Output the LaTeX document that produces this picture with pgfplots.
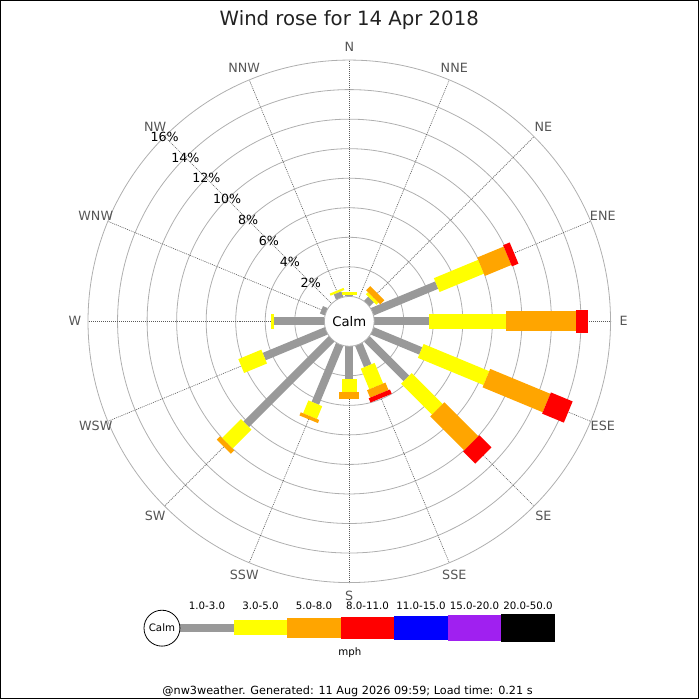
\documentclass[border=0pt]{standalone}
\usepackage{fontspec}
\setmainfont{DejaVu Sans}
\usepackage{pgfplots}
\usepackage{pgfplotstable}
\pgfplotsset{compat=1.18}

\definecolor{spd1}{RGB}{153,153,153}
\definecolor{spd2}{RGB}{255,255,0}
\definecolor{spd3}{RGB}{255,165,0}
\definecolor{spd4}{RGB}{255,0,0}
\definecolor{spd5}{RGB}{0,0,255}
\definecolor{spd6}{RGB}{160,32,240}
\definecolor{spd7}{RGB}{0,0,0}
\definecolor{ringc}{RGB}{175,175,175}
\definecolor{spokec}{RGB}{90,90,90}
\definecolor{dirc}{RGB}{85,85,85}

% cumulative percent of time per direction (compass degrees)
% c1: 1-3 mph, c2: +3-5, c3: +5-8, c4: +8-11
\pgfplotstableread{
dir    c1    c2     c3     c4
0      0.10  0.29   0.29   0.29
22.5   0     0      0      0
45     0.40  0.60   1.00   1.00
67.5   4.72  7.97   9.91   10.39
90     3.72  8.94   13.63  14.46
112.5  3.55  8.36   12.77  14.36
135    3.78  6.74   10.00  11.15
157.5  1.57  3.08   3.63   3.94
180    2.23  3.09   3.58   3.58
202.5  4.32  5.26   5.49   5.49
225    8.18  10.00  10.32  10.32
247.5  4.55  6.23   6.23   6.23
270    3.38  3.60   3.60   3.60
292.5  0.35  0.35   0.35   0.35
315    0     0      0      0
337.5  0.40  0.55   0.55   0.55
}\rosedata

% radius in px: 25 (calm circle) + 14.8 per percent
\newcommand{\dirlabel}[2]{\node[dirc, font=\fontsize{12.8}{14}\selectfont] at (axis cs:{275*sin(#1)},{275*cos(#1)}) {#2};}
\newcommand{\legseg}[4]{%
  \draw[#2, line width=#3bp] (axis cs:{-169.3+53.6*#1},-307.3) -- (axis cs:{-169.3+53.6*(#1+1)},-307.3);
  \node[font=\fontsize{10.3}{12}\selectfont] at (axis cs:{-169.3+53.6*(#1+0.5)},-284.7) {#4};}

\begin{document}
\begin{tikzpicture}
\begin{axis}[
  x=1bp, y=1bp,
  xmin=-350, xmax=350, ymin=-378, ymax=322,
  enlargelimits=false, hide axis, clip=false,
]
% rings and spokes
\pgfplotsinvokeforeach{2,4,...,16}{
  \draw[ringc, line width=0.8bp] (axis cs:0,0) circle[radius={25+14.8*#1}];
}
\pgfplotsinvokeforeach{0,22.5,...,337.5}{
  \draw[spokec, line width=0.6bp, dash pattern=on 1bp off 1bp]
    (axis cs:0,0) -- (axis cs:{262*sin(#1)},{262*cos(#1)});
}

% stacked bars, one class at a time
\addplot[draw=spd1, line width=8bp, -,
  quiver={u={14.8*\thisrow{c1}*sin(\thisrow{dir})}, v={14.8*\thisrow{c1}*cos(\thisrow{dir})}}]
  table[x expr={25*sin(\thisrow{dir})}, y expr={25*cos(\thisrow{dir})}] {\rosedata};
\addplot[draw=spd2, line width=15bp, -,
  quiver={u={14.8*(\thisrow{c2}-\thisrow{c1})*sin(\thisrow{dir})}, v={14.8*(\thisrow{c2}-\thisrow{c1})*cos(\thisrow{dir})}}]
  table[x expr={(25+14.8*\thisrow{c1})*sin(\thisrow{dir})}, y expr={(25+14.8*\thisrow{c1})*cos(\thisrow{dir})}] {\rosedata};
\addplot[draw=spd3, line width=20bp, -,
  quiver={u={14.8*(\thisrow{c3}-\thisrow{c2})*sin(\thisrow{dir})}, v={14.8*(\thisrow{c3}-\thisrow{c2})*cos(\thisrow{dir})}}]
  table[x expr={(25+14.8*\thisrow{c2})*sin(\thisrow{dir})}, y expr={(25+14.8*\thisrow{c2})*cos(\thisrow{dir})}] {\rosedata};
\addplot[draw=spd4, line width=23bp, -,
  quiver={u={14.8*(\thisrow{c4}-\thisrow{c3})*sin(\thisrow{dir})}, v={14.8*(\thisrow{c4}-\thisrow{c3})*cos(\thisrow{dir})}}]
  table[x expr={(25+14.8*\thisrow{c3})*sin(\thisrow{dir})}, y expr={(25+14.8*\thisrow{c3})*cos(\thisrow{dir})}] {\rosedata};

% calm circle
\draw[ringc, fill=white, line width=0.8bp] (axis cs:0,0) circle[radius=25];
\node[font=\fontsize{13.3}{15}\selectfont] at (axis cs:0,0) {Calm};

% percent labels along NW
\pgfplotsinvokeforeach{2,4,...,16}{
  \node[font=\fontsize{12.7}{14}\selectfont] at (axis cs:{(25+14.8*#1)*sin(315)},{(25+14.8*#1)*cos(315)}) {#1\%};
}

% direction labels
\dirlabel{0}{N}
\dirlabel{22.5}{NNE}
\dirlabel{45}{NE}
\dirlabel{67.5}{ENE}
\dirlabel{90}{E}
\dirlabel{112.5}{ESE}
\dirlabel{135}{SE}
\dirlabel{157.5}{SSE}
\dirlabel{180}{S}
\dirlabel{202.5}{SSW}
\dirlabel{225}{SW}
\dirlabel{247.5}{WSW}
\dirlabel{270}{W}
\dirlabel{292.5}{WNW}
\dirlabel{315}{NW}
\dirlabel{337.5}{NNW}

% title
\node[font=\fontsize{19.8}{23}\selectfont, text=black!87] at (axis cs:0,302) {Wind rose for 14 Apr 2018};

% legend
\legseg{0}{spd1}{8}{1.0-3.0}
\legseg{1}{spd2}{15}{3.0-5.0}
\legseg{2}{spd3}{20}{5.0-8.0}
\legseg{3}{spd4}{23}{8.0-11.0}
\legseg{4}{spd5}{25}{11.0-15.0}
\legseg{5}{spd6}{27}{15.0-20.0}
\legseg{6}{spd7}{28}{20.0-50.0}
\draw[black, fill=white, line width=0.8bp] (axis cs:-187.7,-307.5) circle[radius=18];
\node[font=\fontsize{10.3}{12}\selectfont] at (axis cs:-187.7,-307.5) {Calm};
\node[font=\fontsize{10.3}{12}\selectfont] at (axis cs:0.7,-332) {mph};

% footer and frame
\node[font=\fontsize{11.3}{13}\selectfont] at (axis cs:-1.7,-370.7) {@nw3weather. Generated: 11 Aug 2026 09:59; Load time: 0.21 s};
\draw[black, line width=1bp] (axis cs:-349.5,-377.5) rectangle (axis cs:349.5,321.5);
\end{axis}
\end{tikzpicture}
\end{document}
